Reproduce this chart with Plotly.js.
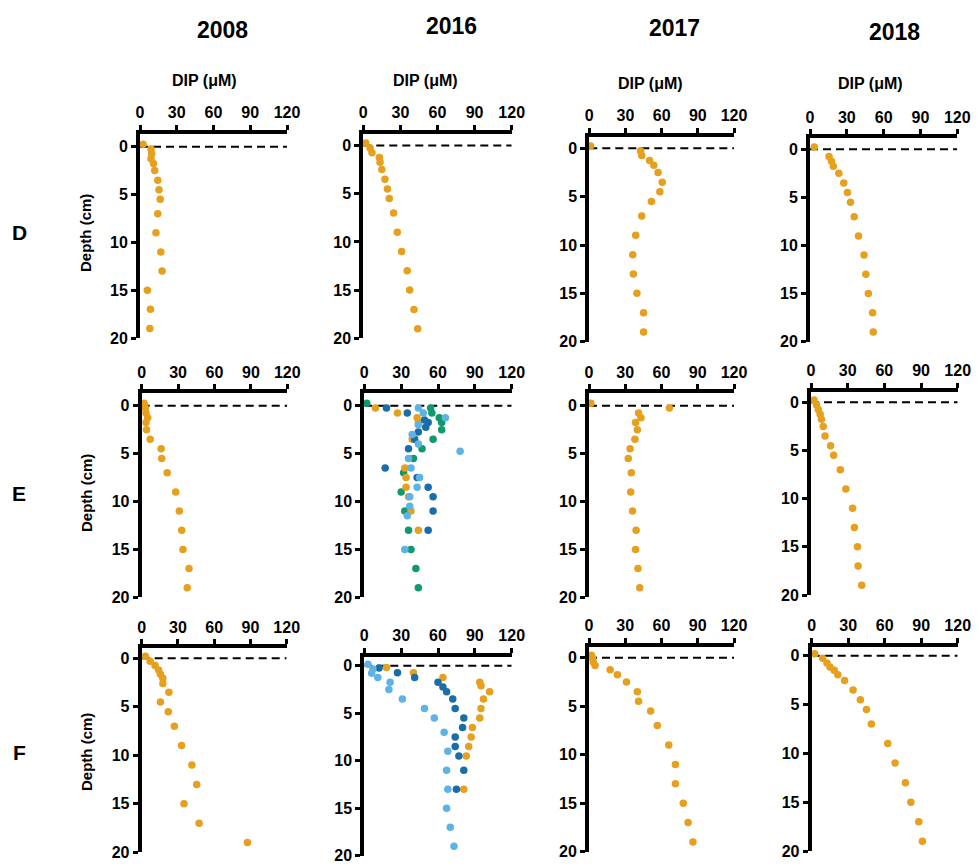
<!DOCTYPE html>
<html>
<head>
<meta charset="utf-8">
<script src="https://cdn.plot.ly/plotly-3.0.1.min.js"></script>
<style>html,body{margin:0;padding:0;background:#fff;}#chart{width:979px;height:866px;}</style>
</head>
<body>
<div id="chart"></div>
<script>
// ---------- DATA ----------
const years = ["2008", "2016", "2017", "2018"];
const rows = ["D", "E", "F"];
const xTicks = [0, 30, 60, 90, 120];
const yTicks = [0, 5, 10, 15, 20];

const depthStd = [-0.25, 0.25, 0.75, 1.25, 1.75, 2.5, 3.5, 4.5, 5.5, 7, 9, 11, 13, 15, 17, 19];

// Row D
const depthD2008 = depthStd;
const dipD2008 = [2.5, 9, 9.5, 9, 11, 12, 14.5, 15.5, 16.5, 14.5, 13, 17, 18, 6, 8.5, 8];
const depthD2016 = depthStd;
const dipD2016 = [2, 5.5, 7, 13, 13.5, 15, 17.5, 19.5, 21, 24.5, 27.5, 31, 35.5, 37.5, 41, 44];
const depthD2017 = depthStd;
const dipD2017 = [1, 42.5, 43.5, 50, 53.5, 57, 60.5, 58.5, 51.5, 43.5, 38.5, 36, 36.5, 39.5, 45, 45];
const depthD2018 = [-0.25, 0.75, 1.25, 1.75, 2.5, 3.5, 4.5, 5.5, 7, 9, 11, 13, 15, 17, 19];
const dipD2018 = [3.5, 15.5, 17.5, 19, 23.5, 27.5, 30.5, 33, 36, 39.5, 44, 45.5, 47.5, 51, 51.5];

// Row E
const depthE2008 = depthStd;
const dipE2008 = [2, 3, 3.5, 5, 3.5, 4, 7, 16, 16.5, 21, 28, 31, 33, 34, 39, 37.5];
const depthE2016a = [0.25, 0.75, 1.25, 1.75, 3.5, 6.5, 7.5, 8.5, 9.5, 11, 13];
const dipE2016a = [9, 27, 43, 44, 39, 33, 34, 34, 36, 38, 44];
const depthE2016b = [0.25, 0.75, 1.5, 1.75, 2.25, 2.75, 3.5, 4.5, 6.5, 7.5, 8.5, 9.5, 11, 13];
const dipE2016b = [18, 35, 49, 52, 50, 44, 41, 36, 17, 43, 52, 56, 56, 52];
const depthE2016c = [0.25, 0.75, 1.25, 2, 3, 4, 4.75, 5.5, 6.5, 7.5, 8.5, 9.5, 10.5, 11.5, 15];
const dipE2016c = [44, 48, 66, 44, 39, 44, 78, 36, 38, 45, 43, 37, 37, 35, 33];
const depthE2016d = [-0.25, 0.25, 0.75, 1.25, 1.75, 2.5, 3.5, 4.5, 5.5, 7, 9, 11, 13, 15, 17, 19];
const dipE2016d = [2, 54, 55, 61, 63, 63, 56, 47, 40, 32, 30, 33, 36, 38, 42, 44];
const depthE2017 = depthStd;
const dipE2017 = [1.5, 66.5, 41, 43, 38.5, 40, 38, 34, 32.5, 35, 34.5, 36, 39, 38.5, 40.5, 42];
const depthE2018 = depthStd;
const dipE2018 = [2.5, 4.5, 6, 7.5, 8.5, 10, 11.5, 16, 18.5, 24, 28.5, 34, 35.5, 38, 38.5, 41.5];

// Row F
const depthF2008 = [-0.2, 0.3, 0.75, 1.2, 1.65, 2.05, 2.6, 3.5, 4.5, 5.5, 7, 9, 11, 13, 15, 17, 19];
const dipF2008 = [3, 7, 11, 14, 15.5, 17.5, 17.5, 22.5, 15.5, 22, 27, 33, 41.5, 45.5, 35, 47.5, 87.5];
const depthF2016a = [0.2, 0.75, 1.25, 1.75, 2.1, 2.75, 3.5, 4.5, 5.5, 6.5, 7.5, 8.5, 9.5, 13];
const dipF2016a = [18, 40, 64, 94, 95, 102, 97, 95, 94, 88, 87, 85, 83, 81];
const depthF2016b = [0.25, 0.75, 1.25, 1.75, 2.25, 2.75, 3.5, 4.5, 5.5, 6.5, 7.5, 8.5, 9.5, 11, 13];
const dipF2016b = [12, 27, 41, 60, 64, 67, 72, 74, 81, 80, 74, 74, 77, 81, 75];
const depthF2016c = [-0.15, 0.35, 0.8, 1.25, 1.75, 2.5, 3.5, 4.5, 5.5, 7, 9, 11, 13, 15, 17, 19];
const dipF2016c = [3, 7, 6, 11, 21, 20, 31, 49, 57, 65, 68, 67, 68, 67, 70, 73];
const depthF2017 = [-0.25, 0.05, 0.45, 0.8, 1.25, 1.75, 2.5, 3.5, 4.5, 5.5, 7, 9, 11, 13, 15, 17, 19];
const dipF2017 = [2, 3, 3.5, 5, 17.5, 23.5, 31, 40, 41, 51, 56.5, 66, 71.5, 71.5, 78, 82, 86];
const depthF2018 = [-0.2, 0.25, 0.75, 1.15, 1.5, 1.95, 2.55, 3.5, 4.5, 5.5, 7, 9, 11, 13, 15, 17, 19];
const dipF2018 = [2.5, 9, 12.5, 15, 18.5, 21.5, 27, 34, 40, 45, 49, 62.5, 68.5, 77, 81.5, 88, 91];

// ---------- STYLE / LAYOUT ----------
const W = 979, H = 866;
const fx = p => p / W;
const fy = p => 1 - p / H;
const ORANGE = "#E6A01E", DBLUE = "#1A6EA8", LBLUE = "#5DB3E4", GREEN = "#0F9A6E";
const FONT = "Liberation Sans, Arial, sans-serif";

// pixel geometry of each panel: x of value 0, x of value 120, axis-line y, y of depth 0, y of depth 20
const panels = [
  {x0:140,   x1:287,   ax:133.5, d0:146.7, d20:338,
   series:[[dipD2008, depthD2008, ORANGE]]},
  {x0:363.3, x1:511.7, ax:133.5, d0:145.5, d20:338.3,
   series:[[dipD2016, depthD2016, ORANGE]]},
  {x0:589.3, x1:734,   ax:136.7, d0:148.3, d20:341.7,
   series:[[dipD2017, depthD2017, ORANGE]]},
  {x0:810,   x1:957.3, ax:138,   d0:149.3, d20:341.7,
   series:[[dipD2018, depthD2018, ORANGE]]},
  {x0:141.7, x1:287.3, ax:393.3, d0:405.7, d20:597.3,
   series:[[dipE2008, depthE2008, ORANGE]]},
  {x0:364.3, x1:511.7, ax:393.3, d0:405.7, d20:597.3,
   series:[[dipE2016d, depthE2016d, GREEN],[dipE2016a, depthE2016a, ORANGE],[dipE2016b, depthE2016b, DBLUE],[dipE2016c, depthE2016c, LBLUE]]},
  {x0:589,   x1:734,   ax:393.3, d0:405.7, d20:597.3,
   series:[[dipE2017, depthE2017, ORANGE]]},
  {x0:811,   x1:957.7, ax:391.7, d0:402.3, d20:595,
   series:[[dipE2018, depthE2018, ORANGE]]},
  {x0:141.7, x1:286.7, ax:648.3, d0:658.3, d20:852.3,
   series:[[dipF2008, depthF2008, ORANGE]]},
  {x0:364.3, x1:511.7, ax:656.7, d0:665.7, d20:855.7,
   series:[[dipF2016a, depthF2016a, ORANGE],[dipF2016b, depthF2016b, DBLUE],[dipF2016c, depthF2016c, LBLUE]]},
  {x0:589,   x1:734,   ax:646.7, d0:657.7, d20:851.7,
   series:[[dipF2017, depthF2017, ORANGE]]},
  {x0:811.7, x1:957.7, ax:646.7, d0:655.7, d20:851,
   series:[[dipF2018, depthF2018, ORANGE]]}
];

const data = [];
const layout = {
  width: W, height: H,
  margin: {l:0, r:0, t:0, b:0},
  paper_bgcolor: "#fff", plot_bgcolor: "rgba(0,0,0,0)",
  showlegend: false,
  font: {family: FONT, color: "#000"},
  shapes: [], annotations: []
};

panels.forEach((p, i) => {
  const n = i + 1;
  const sfx = n === 1 ? "" : String(n);
  const ppc = (p.d20 - p.d0) / 20;
  const top = -(p.d0 - p.ax) / ppc;
  layout["xaxis" + sfx] = {
    domain: [fx(p.x0), fx(p.x1)], range: [0, 120], side: "top", anchor: "y" + sfx,
    showline: true, linewidth: 4, linecolor: "#000", ticks: "outside", ticklen: 5, tickwidth: 3, tickcolor: "#000",
    tickvals: xTicks, ticktext: xTicks.map(String), showgrid: false, zeroline: false,
    tickfont: {family: FONT, size: 16, weight: "bold", color: "#000"}, fixedrange: true
  };
  layout["yaxis" + sfx] = {
    domain: [fy(p.d20), fy(p.ax)], range: [20, top], anchor: "x" + sfx,
    showline: true, linewidth: 4, linecolor: "#000", ticks: "outside", ticklen: 5, tickwidth: 3, tickcolor: "#000",
    tickvals: yTicks, ticktext: yTicks.map(String), showgrid: false, zeroline: false,
    tickfont: {family: FONT, size: 16, weight: "bold", color: "#000"}, fixedrange: true
  };
  layout.shapes.push({
    type: "line", xref: "x" + sfx, yref: "y" + sfx, x0: 0, x1: 120, y0: 0, y1: 0, layer: "below",
    line: {color: "#000", width: 2, dash: "8px,5px"}
  });
  p.series.forEach(s => {
    data.push({
      type: "scatter", mode: "markers", x: s[0], y: s[1],
      xaxis: "x" + sfx, yaxis: "y" + sfx, cliponaxis: false,
      marker: {color: s[2], size: 7.5, line: {width: 0}}, hoverinfo: "x+y"
    });
  });
});

// column titles
const colPos = [[222, 30], [451, 26], [674, 28], [894, 32]];
years.forEach((y, i) => layout.annotations.push({
  text: y, xref: "paper", yref: "paper", x: fx(colPos[i][0]), y: fy(colPos[i][1]),
  xanchor: "center", yanchor: "middle", showarrow: false,
  font: {family: FONT, size: 23, weight: "bold", color: "#000"}
}));
// row labels
const rowPos = [233, 493, 752];
rows.forEach((r, i) => {
  layout.annotations.push({
    text: r, xref: "paper", yref: "paper", x: fx(19), y: fy(rowPos[i]),
    xanchor: "center", yanchor: "middle", showarrow: false,
    font: {family: FONT, size: 21, weight: "bold", color: "#000"}
  });
  layout.annotations.push({
    text: "Depth (cm)", textangle: -90, xref: "paper", yref: "paper", x: fx(86), y: fy(rowPos[i]),
    xanchor: "center", yanchor: "middle", showarrow: false,
    font: {family: FONT, size: 15, weight: "bold", color: "#000"}
  });
});
// DIP axis titles (top row only)
const dipPos = [[204, 81], [425, 81], [650, 84], [870, 84]];
dipPos.forEach(d => layout.annotations.push({
  text: "DIP (μM)", xref: "paper", yref: "paper", x: fx(d[0]), y: fy(d[1]),
  xanchor: "center", yanchor: "middle", showarrow: false,
  font: {family: FONT, size: 16, weight: "bold", color: "#000"}
}));

Plotly.newPlot("chart", data, layout, {displayModeBar: false, staticPlot: true});
</script>
</body>
</html>
